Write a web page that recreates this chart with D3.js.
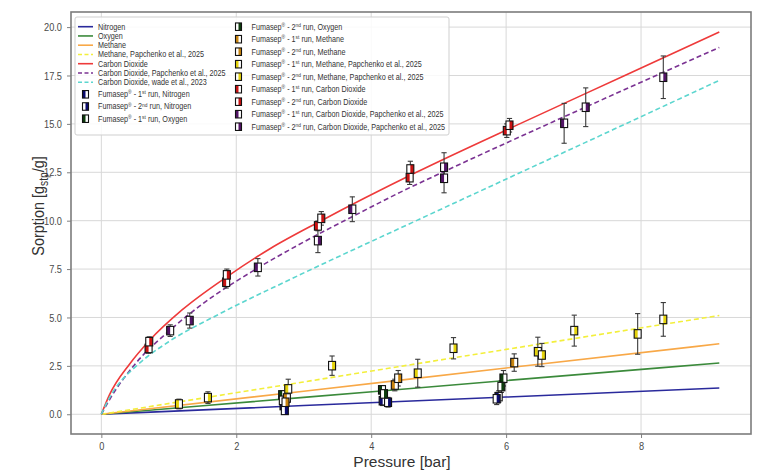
<!DOCTYPE html>
<html>
<head>
<meta charset="utf-8">
<script src="https://cdn.jsdelivr.net/npm/d3@7"></script>
<style>
  html, body { margin: 0; padding: 0; background: #fff; }
  svg { display: block; }
</style>
</head>
<body>
<svg id="chart" width="766" height="472"></svg>
<script>
// ---------- axis ticks ----------
const pressureTicks = [0, 2, 4, 6, 8];
const sorptionTicks = [0, 2.5, 5, 7.5, 10, 12.5, 15, 17.5, 20];

// ---------- model curves: [pressure (bar), sorption (g_stp/g)] ----------
const nitrogenModel = [[0, 0], [3, 0.45], [6, 0.89], [9.16, 1.36]];
const oxygenModel = [[0, 0], [3, 0.87], [6, 1.74], [9.16, 2.65]];
const methaneModel = [[0, 0], [3, 1.19], [6, 2.39], [9.16, 3.64]];
const methanePapchenkoModel = [[0, 0], [3, 1.67], [6, 3.35], [9.16, 5.10]];
const co2Model = [[0, 0], [0.12, 1.0], [0.42, 2.6], [0.71, 3.8], [1.2, 5.4], [1.86, 7.1],
  [2.5, 8.55], [3.26, 10.0], [4.67, 12.5], [6.2, 15.0], [7.76, 17.5], [9.16, 19.75]];
const co2PapchenkoModel = [[0, 0], [0.12, 0.75], [0.49, 2.55], [1.02, 4.35], [1.5, 5.7], [2.27, 7.45],
  [3.0, 8.9], [3.8, 10.35], [4.42, 11.45], [5.12, 12.6], [6.69, 15.1], [8.29, 17.6], [9.16, 18.95]];
const co2WadeModel = [[0, 0], [0.12, 0.85], [0.52, 2.5], [0.71, 3.05], [1.0, 3.75], [1.76, 5.2],
  [2.79, 6.95], [4.73, 10.1], [6.25, 12.55], [7.77, 15.0], [9.16, 17.25]];

// ---------- measurements: [pressure, sorption, error] ----------
const n2Run1 = [[2.70, 0.45, 0.2], [4.17, 0.70, 0.25], [5.89, 0.91, 0.3]];
const n2Run2 = [[2.72, 0.20, 0.2], [4.25, 0.62, 0.25], [5.86, 0.80, 0.3]];
const o2Run1 = [[2.68, 1.00, 0.2], [4.16, 1.26, 0.2], [5.96, 1.86, 0.4]];
const o2Run2 = [[2.69, 0.72, 0.2], [4.19, 1.05, 0.2], [5.93, 1.43, 0.3]];
const ch4Run1 = [[2.75, 0.84, 0.25], [4.35, 1.51, 0.3], [6.12, 2.67, 0.45]];
const ch4Run2 = [[2.73, 0.62, 0.25], [4.40, 1.86, 0.4]];
const ch4PapRun1 = [[1.15, 0.53, 0.25], [2.77, 1.31, 0.5], [4.69, 2.12, 0.72], [6.47, 3.23, 0.75], [7.95, 4.15, 1.05]];
const ch4PapRun2 = [[1.58, 0.86, 0.3], [3.42, 2.51, 0.5], [5.22, 3.41, 0.55], [6.53, 3.06, 0.6], [7.01, 4.32, 0.8], [8.33, 4.90, 0.87]];
const co2Run1 = [[0.70, 3.40, 0.25], [1.85, 6.82, 0.3], [3.21, 9.73, 0.25], [4.57, 12.22, 0.35], [6.01, 14.65, 0.35]];
const co2Run2 = [[0.71, 3.75, 0.25], [1.86, 7.20, 0.3], [3.26, 10.12, 0.35], [4.58, 12.67, 0.4], [6.05, 14.93, 0.35]];
const co2PapRun1 = [[1.02, 4.32, 0.3], [2.32, 7.59, 0.45], [3.72, 10.59, 0.64], [5.08, 12.19, 0.75], [6.86, 15.03, 1.03]];
const co2PapRun2 = [[1.31, 4.84, 0.39], [3.21, 8.97, 0.62], [5.08, 12.76, 0.75], [7.18, 15.86, 1.0], [8.33, 17.41, 1.1]];

// ---------- styling ----------
const C = {
  n2Line: "#2a2a9c", o2Line: "#3b8a3b", ch4Line: "#f8a847", ch4PapLine: "#f3ef3c",
  co2Line: "#ee3a3a", co2PapLine: "#7b3393", wadeLine: "#5cd6cf",
  n2: "#0b0b6e", o2: "#0d3d0d", ch4: "#c98510", ch4Pap: "#e4d20c", co2: "#c81212", co2Pap: "#521466"
};

const lineSeries = [
  { data: nitrogenModel, color: C.n2Line, dash: null, label: "Nitrogen" },
  { data: oxygenModel, color: C.o2Line, dash: null, label: "Oxygen" },
  { data: methaneModel, color: C.ch4Line, dash: null, label: "Methane" },
  { data: methanePapchenkoModel, color: C.ch4PapLine, dash: "5,3", label: "Methane, Papchenko et al., 2025" },
  { data: co2Model, color: C.co2Line, dash: null, label: "Carbon Dioxide" },
  { data: co2PapchenkoModel, color: C.co2PapLine, dash: "5,3", label: "Carbon Dioxide, Papchenko et al., 2025" },
  { data: co2WadeModel, color: C.wadeLine, dash: "5,3", label: "Carbon Dioxide, wade et al., 2023" }
];

const pointSeries = [
  { data: n2Run1, color: C.n2, side: "left", run: "1", sup: "st", gas: "Nitrogen" },
  { data: n2Run2, color: C.n2, side: "right", run: "2", sup: "nd", gas: "Nitrogen" },
  { data: o2Run1, color: C.o2, side: "left", run: "1", sup: "st", gas: "Oxygen" },
  { data: o2Run2, color: C.o2, side: "right", run: "2", sup: "nd", gas: "Oxygen" },
  { data: ch4Run1, color: C.ch4, side: "left", run: "1", sup: "st", gas: "Methane" },
  { data: ch4Run2, color: C.ch4, side: "right", run: "2", sup: "nd", gas: "Methane" },
  { data: ch4PapRun1, color: C.ch4Pap, side: "left", run: "1", sup: "st", gas: "Methane, Papchenko et al., 2025" },
  { data: ch4PapRun2, color: C.ch4Pap, side: "right", run: "2", sup: "nd", gas: "Methane, Papchenko et al., 2025" },
  { data: co2Run1, color: C.co2, side: "left", run: "1", sup: "st", gas: "Carbon Dioxide" },
  { data: co2Run2, color: C.co2, side: "right", run: "2", sup: "nd", gas: "Carbon Dioxide" },
  { data: co2PapRun1, color: C.co2Pap, side: "left", run: "1", sup: "st", gas: "Carbon Dioxide, Papchenko et al., 2025" },
  { data: co2PapRun2, color: C.co2Pap, side: "right", run: "2", sup: "nd", gas: "Carbon Dioxide, Papchenko et al., 2025" }
];

// ---------- layout ----------
const plot = { left: 71, right: 751, top: 12, bottom: 434 };
const x = d3.scaleLinear().domain([-0.45, 9.63]).range([plot.left, plot.right]);
const y = d3.scaleLinear().domain([-1.02, 20.78]).range([plot.bottom, plot.top]);

const svg = d3.select("#chart");
const sans = "'Liberation Sans', Arial, sans-serif";
const SQUEEZE = 0.84;   // condensed look of the lettering

// grid
const grid = svg.append("g");
grid.selectAll("line.gx").data(pressureTicks).join("line")
  .attr("x1", d => x(d)).attr("x2", d => x(d))
  .attr("y1", plot.top).attr("y2", plot.bottom)
  .attr("stroke", "#d8d8d8").attr("stroke-width", 1);
grid.selectAll("line.gy").data(sorptionTicks).join("line")
  .attr("x1", plot.left).attr("x2", plot.right)
  .attr("y1", d => y(d)).attr("y2", d => y(d))
  .attr("stroke", "#d8d8d8").attr("stroke-width", 1);

// axes
const xAxis = d3.axisBottom(x).tickValues(pressureTicks).tickSize(4).tickPadding(4).tickFormat(d3.format("d"));
const yAxis = d3.axisLeft(y).tickValues(sorptionTicks).tickSize(4).tickPadding(5).tickFormat(d3.format(".1f"));
const gx = svg.append("g").attr("transform", `translate(0,${plot.bottom})`).call(xAxis);
const gy = svg.append("g").attr("transform", `translate(${plot.left},0)`).call(yAxis);
[gx, gy].forEach(g => {
  g.select(".domain").remove();
  g.selectAll(".tick line").attr("stroke", "#808080").attr("stroke-width", 1);
  g.selectAll(".tick text").attr("fill", "#4a4a4a").style("font-family", sans).style("font-size", "11px");
});
gx.selectAll(".tick text").attr("transform", `scale(${SQUEEZE},1)`);
gy.selectAll(".tick text").attr("transform", `translate(-9,0) scale(${SQUEEZE},1) translate(9,0)`);

// model curves
const line = d3.line().x(d => x(d[0])).y(d => y(d[1])).curve(d3.curveMonotoneX);
svg.append("g").selectAll("path").data(lineSeries).join("path")
  .attr("d", d => line(d.data))
  .attr("fill", "none")
  .attr("stroke", d => d.color)
  .attr("stroke-width", 1.6)
  .attr("stroke-dasharray", d => d.dash);

// half-filled square marker
function drawMarker(g, cx, cy, w, h, color, side) {
  g.append("rect").attr("x", cx - w / 2).attr("y", cy - h / 2).attr("width", w).attr("height", h)
    .attr("fill", "#fff");
  g.append("rect").attr("x", side === "left" ? cx - w / 2 : cx).attr("y", cy - h / 2)
    .attr("width", w / 2).attr("height", h).attr("fill", color);
  g.append("rect").attr("x", cx - w / 2).attr("y", cy - h / 2).attr("width", w).attr("height", h)
    .attr("fill", "none").attr("stroke", "#111").attr("stroke-width", 1.1);
}

// error bars, then markers
const eb = svg.append("g");
pointSeries.forEach(s => {
  s.data.forEach(([p, v, e]) => {
    const px = x(p);
    eb.append("line").attr("x1", px).attr("x2", px).attr("y1", y(v - e)).attr("y2", y(v + e))
      .attr("stroke", "#3a3a3a").attr("stroke-width", 1.1);
    [v - e, v + e].forEach(t => eb.append("line")
      .attr("x1", px - 2.6).attr("x2", px + 2.6).attr("y1", y(t)).attr("y2", y(t))
      .attr("stroke", "#3a3a3a").attr("stroke-width", 1.1));
  });
});
const mk = svg.append("g");
pointSeries.forEach(s => {
  s.data.forEach(([p, v]) => drawMarker(mk, x(p), y(v), 7, 8.5, s.color, s.side));
});

// frame
svg.append("rect").attr("x", plot.left).attr("y", plot.top)
  .attr("width", plot.right - plot.left).attr("height", plot.bottom - plot.top)
  .attr("fill", "none").attr("stroke", "#7c7c7c").attr("stroke-width", 1.6);

// axis titles
svg.append("text").attr("x", 402).attr("y", 467)
  .attr("text-anchor", "middle").attr("fill", "#333")
  .style("font-family", sans).style("font-size", "15.5px")
  .text("Pressure [bar]");

const yl = svg.append("text").attr("transform", `translate(44,206) rotate(-90) scale(0.85,1)`)
  .attr("text-anchor", "middle").attr("fill", "#333")
  .style("font-family", sans).style("font-size", "17px");
yl.append("tspan").text("Sorption [g");
yl.append("tspan").attr("dy", 3.5).style("font-size", "12px").text("stp");
yl.append("tspan").attr("dy", -3.5).text("/g]");

// ---------- legend ----------
const lg = svg.append("g");
lg.append("rect").attr("x", 75).attr("y", 17).attr("width", 374).attr("height", 118).attr("rx", 2)
  .attr("fill", "#fff").attr("fill-opacity", 0.85).attr("stroke", "#cfcfcf").attr("stroke-width", 1);

// parts: [string, isSuperscript]; the baseline shift is undone on the next normal part
function legendText(tx, ty, parts) {
  const t = lg.append("text").attr("transform", `translate(${tx},${ty}) scale(${SQUEEZE},1)`)
    .attr("fill", "#333").style("font-family", sans).style("font-size", "8.6px");
  let raised = false;
  parts.forEach(([str, sup]) => {
    const ts = t.append("tspan").text(str);
    if (sup) {
      ts.attr("dy", -2.8).style("font-size", "5.8px");
      raised = true;
    } else if (raised) {
      ts.attr("dy", 2.8);
      raised = false;
    }
  });
}
function fumasepParts(s) {
  return [["Fumasep"], ["®", true], [" - " + s.run], [s.sup, true], [" run, " + s.gas]];
}

// column 1: model lines
lineSeries.forEach((s, i) => {
  const cy = 26.7 + 9.25 * i;
  lg.append("line").attr("x1", 78).attr("x2", 93).attr("y1", cy).attr("y2", cy)
    .attr("stroke", s.color).attr("stroke-width", 1.6).attr("stroke-dasharray", s.dash ? "4,2.5" : null);
  legendText(98, cy + 2.9, [[s.label]]);
});
// column 1 (rest) and column 2: measurement markers
pointSeries.forEach((s, i) => {
  let cx, cy, tx;
  if (i < 3) { cx = 85.5; cy = 94.3 + 12.2 * i; tx = 98; }
  else { cx = 238.5; cy = 26.7 + 12.5 * (i - 3); tx = 251.5; }
  drawMarker(lg, cx, cy, 6, 7.5, s.color, s.side);
  legendText(tx, cy + 2.9, fumasepParts(s));
});
</script>
</body>
</html>
